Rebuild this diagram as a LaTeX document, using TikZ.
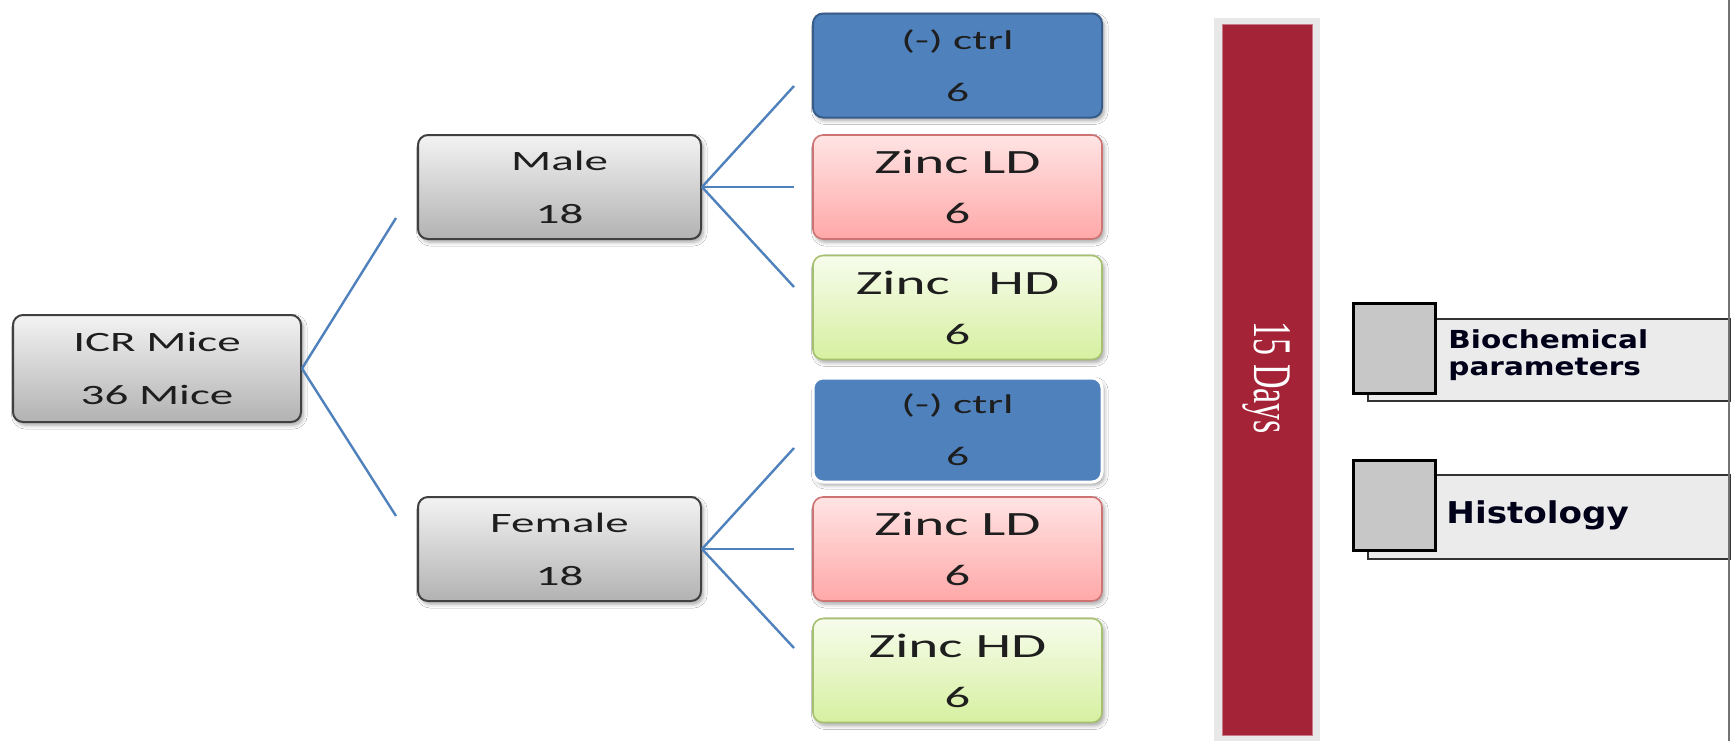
\documentclass[tikz,border=0pt]{standalone}
\usepackage{fontspec}
\setmainfont{Carlito}
\newfontfamily\calw[FakeStretch=1.68]{Carlito}
\newfontfamily\tms{Liberation Serif}
\newfontfamily\dvb[FakeStretch=1.19]{DejaVu Sans}
\newfontfamily\dvh[FakeStretch=1.14]{DejaVu Sans}
\usetikzlibrary{shadows.blur}
\definecolor{lineblue}{RGB}{79,129,189}
\definecolor{ctrlblue}{RGB}{79,129,189}
\definecolor{ctrlborder}{RGB}{56,93,138}
\definecolor{barred}{RGB}{164,35,55}
\definecolor{pinktop}{RGB}{255,228,228}
\definecolor{pinkbot}{RGB}{255,168,168}
\definecolor{pinkbord}{RGB}{205,115,115}
\definecolor{greentop}{RGB}{247,252,236}
\definecolor{greenbot}{RGB}{214,240,160}
\definecolor{greenbord}{RGB}{165,192,110}
\definecolor{greytop}{RGB}{243,243,243}
\definecolor{greybot}{RGB}{178,178,178}
\definecolor{txtdark}{RGB}{30,30,30}
\tikzset{
  box/.style={rectangle, rounded corners=5pt, minimum height=52pt, align=center, inner sep=0pt,
    blur shadow={shadow xshift=1.2pt, shadow yshift=-1.6pt, shadow blur steps=5, shadow opacity=35}},
  greybox/.style={box, top color=greytop, bottom color=greybot, draw=black!75, line width=1pt,
    font=\calw\fontsize{14}{26.5}\selectfont, text=txtdark},
  ctrlbox/.style={box, fill=ctrlblue, draw=ctrlborder, line width=1pt, minimum width=144.5pt,
    font=\calw\fontsize{13.5}{26}\selectfont, text=txtdark},
  ldbox/.style={box, top color=pinktop, bottom color=pinkbot, draw=pinkbord, line width=0.8pt, minimum width=144.5pt,
    font=\calw\fontsize{17}{25}\selectfont, text=txtdark},
  hdbox/.style={box, top color=greentop, bottom color=greenbot, draw=greenbord, line width=0.8pt, minimum width=144.5pt,
    font=\calw\fontsize{17}{25}\selectfont, text=txtdark},
  conn/.style={draw=lineblue, line width=1.2pt},
  sq/.style={rectangle, fill=black!22, draw=black, line width=1.5pt, minimum width=41pt, minimum height=45pt, inner sep=0pt},
  longbox/.style={rectangle, fill=black!8, draw=black!80, line width=0.8pt, anchor=north west, inner sep=0pt},
  labtxt/.style={anchor=base west, inner sep=0pt, text=black!90!blue}
}
\newcommand{\smallsix}{{\fontsize{15}{25}\selectfont 6}}
\begin{document}
\begin{tikzpicture}[x=0.5pt,y=-0.5pt]
\useasboundingbox (0,0) rectangle (1733,741);
\fill[white] (0,0) rectangle (1733,741);

% left tree
\node[greybox, minimum width=144pt, minimum height=53.5pt] (icr) at (157,368.5) {ICR Mice\\36 Mice};
\node[greybox, minimum width=141.5pt] (male) at (559.5,187) {Male\\18};
\node[greybox, minimum width=141.5pt] (female) at (559.5,549) {Female\\18};

\node[ctrlbox] (c1) at (957.5,65.5) {(-) ctrl\\6};
\node[ldbox] (ld1) at (957.5,187) {Zinc LD\\\smallsix};
\node[hdbox] (hd1) at (957.5,307.5) {Zinc\ \ \ HD\\\smallsix};
\node[ctrlbox, draw=white, line width=1.5pt] (c2) at (957.5,430) {(-) ctrl\\6};
\node[ldbox] (ld2) at (957.5,549) {Zinc LD\\\smallsix};
\node[hdbox] (hd2) at (957.5,670.5) {Zinc HD\\\smallsix};

\coordinate (mEnd) at (396,218);
\coordinate (fEnd) at (396,516);
\coordinate (m1) at (794,86);
\coordinate (m2) at (794,187);
\coordinate (m3) at (794,287);
\coordinate (f1) at (794,448);
\coordinate (f2) at (794,549);
\coordinate (f3) at (794,648);

\draw[conn] (icr.east) -- (mEnd);
\draw[conn] (icr.east) -- (fEnd);
\draw[conn] (male.east) -- (m1);
\draw[conn] (male.east) -- (m2);
\draw[conn] (male.east) -- (m3);
\draw[conn] (female.east) -- (f1);
\draw[conn] (female.east) -- (f2);
\draw[conn] (female.east) -- (f3);

% time bar
\fill[black!9] (1214,18) rectangle (1320,741);
\node[rectangle, fill=barred, draw=barred!60!white, line width=0.5pt, minimum width=45pt, minimum height=355.5pt, inner sep=0pt] (bar) at (1267,379.5) {};
\node[rotate=-90, text=white, inner sep=0pt] (days) at (1267,378) {\scalebox{1}[1.6]{\tms\fontsize{17}{19}\selectfont 15 Days}};

% outcomes
\node[longbox, minimum width=181pt, minimum height=41pt] (bioRect) at (1367,318) {};
\node[sq] (bioSq) at (1394,348) {};
\node[labtxt, font=\dvb\bfseries\fontsize{12.4}{16}\selectfont] (bioT1) at (1448,348) {Biochemical};
\node[labtxt, font=\dvb\bfseries\fontsize{12.4}{16}\selectfont] (bioT2) at (1448,375) {parameters};

\node[longbox, minimum width=181pt, minimum height=42pt] (hisRect) at (1367,474) {};
\node[sq] (hisSq) at (1394,505.5) {};
\node[labtxt, font=\dvh\bfseries\fontsize{15}{18}\selectfont] (hisT) at (1446,523) {Histology};

\draw[black!55, line width=1pt] (1729,0) -- (1729,741);
\end{tikzpicture}
\end{document}
